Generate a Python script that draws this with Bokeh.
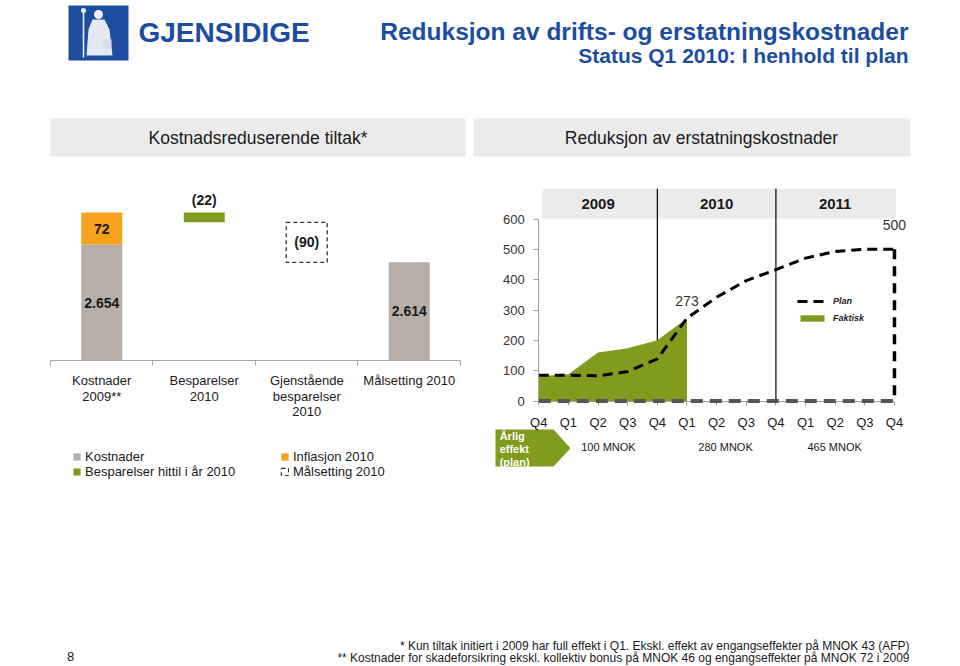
from bokeh.plotting import figure
from bokeh.models import Range1d, LinearAxis, FixedTicker, Legend, LegendItem
from bokeh.layouts import column, row
from bokeh.embed import file_html
from bokeh.resources import INLINE
from bokeh.core.properties import value

FONT = "Liberation Sans"
BLUE = "#1c4d9e"
GREY = "#b6aea7"
ORANGE = "#f8a11c"
GREEN = "#7f9c1f"
BOXGREY = "#ebebeb"
TXT = "#1a1a1a"

# ---------------- data ----------------
left_categories = ["Kostnader\n2009**", "Besparelser\n2010",
                   "Gjenstående\nbesparelser\n2010", "Målsetting 2010"]
kostnader_2009 = 2654
inflasjon_2010 = 72
besparelser_hittil = 22
gjenstaaende = 90
maalsetting_2010 = 2614
axis_base = 2393          # value where the (broken) left axis starts

quarters = ["Q4", "Q1", "Q2", "Q3", "Q4", "Q1", "Q2", "Q3", "Q4", "Q1", "Q2", "Q3", "Q4"]
plan = [85, 85, 83, 97, 139, 273, 342, 397, 433, 471, 493, 500, 500]
faktisk = [82, 88, 160, 174, 200, 273]
years = ["2009", "2010", "2011"]
aarlig_effekt = ["100 MNOK", "280 MNOK", "465 MNOK"]
y_ticks = [0, 100, 200, 300, 400, 500, 600]

footnotes = ["* Kun tiltak initiert i 2009 har full effekt i Q1. Ekskl. effekt av engangseffekter på MNOK 43 (AFP)",
             "** Kostnader for skadeforsikring ekskl. kollektiv bonus på MNOK 46 og engangseffekter på MNOK 72 i 2009"]


def fmt(v):
    return f"{v:,}".replace(",", ".")


def base_fig(w, h, xr, yr):
    f = figure(width=w, height=h, x_range=xr, y_range=yr, output_backend="svg",
               toolbar_location=None, x_axis_type=None, y_axis_type=None,
               min_border=0, outline_line_color=None)
    f.background_fill_color = "white"
    f.border_fill_color = "white"
    return f


def txt(f, x, y, t, size, align="center", baseline="middle", style="normal", color=TXT, **kw):
    return f.text(x=x, y=y, text=t, text_font=value(FONT), text_font_size=size,
                  text_font_style=style, text_color=color, text_align=align,
                  text_baseline=baseline, **kw)


# ---------------- header (page coordinates) ----------------
hdr = base_fig(944, 170, Range1d(0, 944), Range1d(170, 0))
hdr.quad(left=68, right=128, top=5, bottom=60, fill_color=BLUE, line_color=None)
hdr.segment(x0=83, y0=10, x1=83, y1=57, line_color="#eef1f8", line_width=1.6)
hdr.scatter(x=[83], y=[10], size=5, fill_color="#eef1f8", line_color=None)
hdr.scatter(x=[98], y=[14], size=9, fill_color="#eef1f8", line_color=None)
hdr.patch(x=[92, 104, 109, 112, 86, 88], y=[19, 19, 29, 55, 55, 29],
          fill_color="#e4e8f2", line_color=None)
hdr.quad(left=103, right=111, top=39, bottom=48, fill_color="#d5dbea", line_color=None)
txt(hdr, [138], [32], ["GJENSIDIGE"], "28px", align="left", style="bold", color=BLUE)
txt(hdr, [908], [31], ["Reduksjon av drifts- og erstatningskostnader"], "24.5px",
    align="right", style="bold", color=BLUE)
txt(hdr, [908], [55], ["Status Q1 2010: I henhold til plan"], "21px",
    align="right", style="bold", color=BLUE)
hdr.quad(left=[50, 473], right=[465, 910], top=118, bottom=156, fill_color=BOXGREY, line_color=None)
txt(hdr, [257.5, 701], [137, 137], ["Kostnadsreduserende tiltak*", "Reduksjon av erstatningskostnader"], "17.5px")

# ---------------- left waterfall ----------------
left = base_fig(470, 330, Range1d(-0.4878, 4.0976), Range1d(2078, 2820.5))
centers = [0.5, 1.5, 2.5, 3.5]
total = kostnader_2009 + inflasjon_2010
after_sav = total - besparelser_hittil
bw = 0.4
grey_r = left.vbar(x=[centers[0], centers[3]], bottom=axis_base, top=[kostnader_2009, maalsetting_2010],
                   width=bw, fill_color=GREY, line_color=None)
orange_r = left.vbar(x=[centers[0]], bottom=kostnader_2009, top=total, width=bw,
                     fill_color=ORANGE, line_color=None)
green_r = left.vbar(x=[centers[1]], bottom=after_sav, top=total, width=bw,
                    fill_color=GREEN, line_color=None)
dash_r = left.vbar(x=[centers[2]], bottom=after_sav - gjenstaaende, top=after_sav, width=bw,
                   fill_alpha=0, line_color="#333333", line_dash="4 3", line_width=1.3)

txt(left, [centers[0], centers[3]], [(axis_base + kostnader_2009) / 2, (axis_base + maalsetting_2010) / 2],
    [fmt(kostnader_2009), fmt(maalsetting_2010)], "14px", style="bold")
txt(left, [centers[0]], [(kostnader_2009 + total) / 2], [fmt(inflasjon_2010)], "14px", style="bold")
txt(left, [centers[1]], [total], [f"({besparelser_hittil})"], "14px", style="bold", y_offset=-13)
txt(left, [centers[2]], [after_sav - gjenstaaende / 2], [f"({gjenstaaende})"], "14px", style="bold")
for c, lab in zip(centers, left_categories):
    for k, line in enumerate(lab.split("\n")):
        txt(left, [c], [axis_base], [line], "13px", y_offset=20 + k * 15.5)

lax = LinearAxis(fixed_location=axis_base, bounds=(0, 4), ticker=FixedTicker(ticks=[0, 1, 2, 3, 4]),
                 major_label_overrides={i: "" for i in range(5)},
                 axis_line_color="#a8a8a8", major_tick_line_color="#a8a8a8",
                 major_tick_out=5, major_tick_in=0, minor_tick_line_color=None)
left.add_layout(lax, "below")

leg_kw = dict(border_line_color=None, background_fill_alpha=0, padding=0, margin=0, spacing=-2,
              label_standoff=4, glyph_width=9, glyph_height=9, label_height=13,
              label_text_font=FONT, label_text_font_size="13px", label_text_color=TXT)
leg1 = Legend(items=[LegendItem(label="Kostnader", renderers=[grey_r]),
                     LegendItem(label="Besparelser hittil i år 2010", renderers=[green_r])],
              location=(72, 21), **leg_kw)
leg2 = Legend(items=[LegendItem(label="Inflasjon 2010", renderers=[orange_r]),
                     LegendItem(label="Målsetting 2010", renderers=[dash_r])],
              location=(280, 21), **leg_kw)
left.add_layout(leg1, "center")
left.add_layout(leg2, "center")

# ---------------- right chart ----------------
rgt = base_fig(474, 330, Range1d(-2.304, 13.688), Range1d(-328.0, 759.9))
n = len(quarters)
rgt.quad(left=0.12, right=12.05, bottom=602, top=700, fill_color=BOXGREY, line_color=None)
txt(rgt, [2, 6, 10], [651] * 3, years, "15px", style="bold")
rgt.segment(x0=[4, 8], y0=0, x1=[4, 8], y1=700, line_color="black", line_width=1.2)

area_r = rgt.varea(x=list(range(len(faktisk))), y1=[0] * len(faktisk), y2=faktisk, fill_color=GREEN)

yax = LinearAxis(fixed_location=0, bounds=(0, 600), ticker=FixedTicker(ticks=y_ticks),
                 axis_line_color="#a0a0a0", major_tick_line_color="#a0a0a0",
                 major_tick_out=5, major_tick_in=0, minor_tick_line_color=None,
                 major_label_standoff=9, major_label_text_font=FONT,
                 major_label_text_font_size="13px", major_label_text_color="#333333")
rgt.add_layout(yax, "left")
xax = LinearAxis(fixed_location=0, bounds=(0, n - 1), ticker=FixedTicker(ticks=list(range(n))),
                 major_label_overrides={i: q for i, q in enumerate(quarters)},
                 axis_line_color="#a0a0a0", major_tick_line_color="#a0a0a0",
                 major_tick_out=4, major_tick_in=0, minor_tick_line_color=None,
                 major_label_standoff=10, major_label_text_font=FONT,
                 major_label_text_font_size="13px", major_label_text_color="#1a1a1a")
rgt.add_layout(xax, "below")

rgt.line(x=[0, n - 1], y=[0, 0], line_color="#555555", line_width=4, line_dash="12 7", level="overlay")
plan_r = rgt.line(x=list(range(n)), y=plan, line_color="black", line_width=3, line_dash="10 6")
rgt.segment(x0=[n - 1], y0=[plan[-1]], x1=[n - 1], y1=[0], line_color="black",
            line_width=3.5, line_dash="10 7")

txt(rgt, [5], [faktisk[5]], [str(faktisk[5])], "14px", color="#333333", y_offset=-17)
txt(rgt, [n - 1], [plan[-1]], [str(plan[-1])], "14px", color="#333333", y_offset=-24)

rgt.patch(x=[-1.46, 0.5, 1.07, 0.5, -1.46], y=[-94, -94, -155.6, -216, -216],
          fill_color=GREEN, line_color=None)
for k, line in enumerate(["Årlig", "effekt", "(plan)"]):
    txt(rgt, [-1.32], [-94], [line], "11px", align="left", style="bold", color="white",
        y_offset=6 + 13 * k)
txt(rgt, [2.35, 6.3, 9.98], [-153] * 3, aarlig_effekt, "11px")

leg3 = Legend(items=[LegendItem(label="Plan", renderers=[plan_r]),
                     LegendItem(label="Faktisk", renderers=[area_r])],
              location=(327, 176), border_line_color=None, background_fill_alpha=0,
              padding=0, margin=0, spacing=5, label_standoff=6, glyph_width=30,
              glyph_height=8, label_height=12, label_text_font=FONT,
              label_text_font_size="9px", label_text_font_style="bold italic",
              label_text_color="#222222")
rgt.add_layout(leg3, "center")

# ---------------- footer ----------------
ftr = base_fig(944, 166, Range1d(0, 944), Range1d(666, 500))
txt(ftr, [70], [656], ["8"], "13px")
txt(ftr, [909, 909], [645, 657], footnotes, "12px", align="right")

layout = column(hdr, row(left, rgt), ftr)
open("out.html", "w").write(file_html(layout, INLINE))
